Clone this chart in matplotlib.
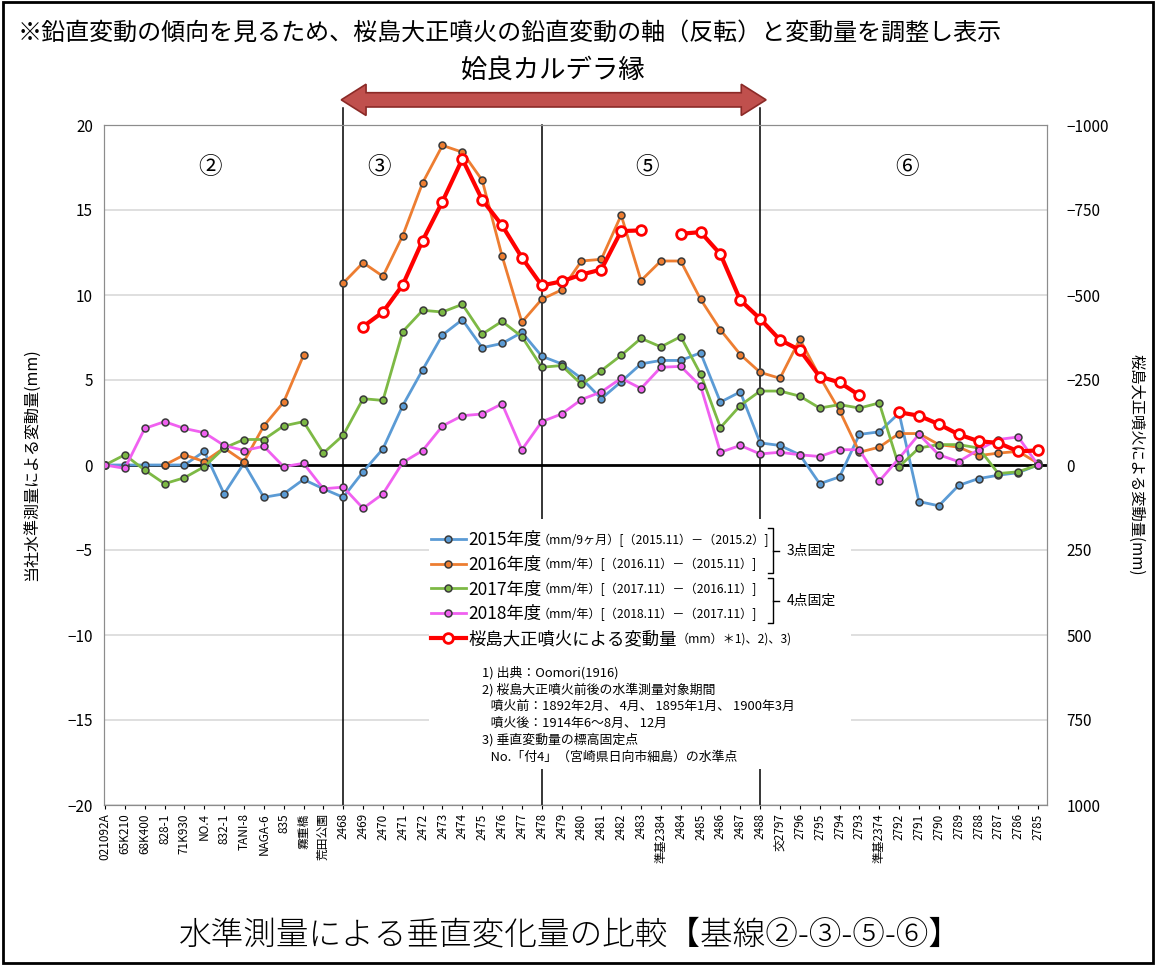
import matplotlib

matplotlib.use("Agg")
import matplotlib.pyplot as plt
import matplotlib.transforms as mtransforms
import numpy as np
from matplotlib.lines import Line2D
from matplotlib.patches import Polygon, Rectangle

plt.rcParams["font.family"] = ["Noto Sans CJK JP", "DejaVu Sans"]

nan = np.nan

STATIONS = [
    "021092A", "65K210", "68K400", "828-1", "71K930", "NO.4", "832-1", "TANI-8",
    "NAGA-6", "835", "霧重橋", "荒田公園", "2468", "2469", "2470", "2471",
    "2472", "2473", "2474", "2475", "2476", "2477", "2478", "2479",
    "2480", "2481", "2482", "2483", "準基2384", "2484", "2485", "2486",
    "2487", "2488", "交2797", "2796", "2795", "2794", "2793", "準基2374",
    "2792", "2791", "2790", "2789", "2788", "2787", "2786", "2785",
]

# 当社水準測量 (mm)
FY2015 = [
    0, 0, 0, 0, 0, 0.8, -1.7, 0.1, -1.9, -1.7, -0.85, -1.4,
    -1.9, -0.4, 0.95, 3.5, 5.6, 7.65, 8.55, 6.9, 7.15, 7.8, 6.4, 5.95,
    5.1, 3.9, 4.9, 5.95, 6.15, 6.15, 6.6, 3.7, 4.3, 1.3, 1.15, 0.6,
    -1.1, -0.7, 1.8, 1.95, 3.05, -2.15, -2.4, -1.2, -0.8, -0.6, -0.45, 0,
]
FY2016 = [
    nan, nan, nan, 0, 0.6, 0.2, 1.0, 0.2, 2.3, 3.7, 6.45, nan,
    10.7, 11.9, 11.1, 13.5, 16.6, 18.8, 18.4, 16.75, 12.3, 8.4, 9.75, 10.3,
    12.0, 12.1, 14.7, 10.85, 12.0, 12.0, 9.75, 7.95, 6.5, 5.45, 5.1, 7.4,
    5.2, 3.2, 0.75, 1.05, 1.85, 1.85, 1.2, 1.05, 0.55, 0.7, 0.8, 0.1,
]
FY2017 = [
    0, 0.6, -0.3, -1.1, -0.75, -0.1, 1.0, 1.5, 1.5, 2.3, 2.55, 0.7,
    1.75, 3.9, 3.8, 7.85, 9.1, 9.0, 9.45, 7.7, 8.45, 7.55, 5.75, 5.85,
    4.75, 5.55, 6.45, 7.45, 6.95, 7.55, 5.35, 2.2, 3.5, 4.35, 4.35, 4.05,
    3.35, 3.55, 3.35, 3.65, -0.1, 1.0, 1.2, 1.2, 1.0, -0.5, -0.4, 0,
]
FY2018 = [
    0, -0.2, 2.15, 2.55, 2.15, 1.9, 1.15, 0.85, 1.1, -0.1, 0.1, -1.4,
    -1.3, -2.55, -1.7, 0.15, 0.85, 2.3, 2.9, 3.0, 3.6, 0.9, 2.55, 3.0,
    3.85, 4.3, 5.1, 4.5, 5.75, 5.8, 4.65, 0.75, 1.15, 0.65, 0.75, 0.6,
    0.5, 0.9, 0.9, -0.95, 0.4, 1.8, 0.6, 0.2, 0.9, 1.5, 1.65, 0,
]
# 桜島大正噴火による変動量 (mm, 右軸)
TAISHO = [
    nan, nan, nan, nan, nan, nan, nan, nan, nan, nan, nan, nan,
    nan, -407, -450, -530, -660, -775, -900, -780, -705, -610, -528, -540,
    -560, -575, -688, -690, nan, -680, -685, -620, -485, -430, -368, -338,
    -260, -243, -205, nan, -155, -145, -120, -90, -70, -65, -40, -43,
]

SERIES = [
    ("2015年度", FY2015, "#5B9BD5"),
    ("2016年度", FY2016, "#ED7D31"),
    ("2017年度", FY2017, "#7DB945"),
    ("2018年度", FY2018, "#F060F0"),
]
SERIES_NOTES = [
    "（mm/9ヶ月）[（2015.11）－（2015.2）]",
    "（mm/年）[（2016.11）－（2015.11）]",
    "（mm/年）[（2017.11）－（2016.11）]",
    "（mm/年）[（2018.11）－（2017.11）]",
]
TAISHO_LABEL = "桜島大正噴火による変動量"
TAISHO_NOTE = "（mm）＊1)、2)、3)"

# base line section boundaries and labels
BOUNDARIES = [12, 22, 33]
SECTIONS = [("②", 5.3), ("③", 13.8), ("⑤", 27.3), ("⑥", 40.4)]

NOTES = [
    "1) 出典：Oomori(1916)",
    "2) 桜島大正噴火前後の水準測量対象期間",
    "   噴火前：1892年2月、 4月、 1895年1月、 1900年3月",
    "   噴火後：1914年6～8月、 12月",
    "3) 垂直変動量の標高固定点",
    "   No.「付4」（宮崎県日向市細島）の水準点",
]

W, H = 1156, 965


def fx(px):
    return px / W


def fy(py):
    return 1 - py / H


def main() -> None:
    fig = plt.figure(figsize=(W / 100, H / 100), dpi=100)
    ax = fig.add_axes([fx(104), fy(805), fx(1047) - fx(104), fy(125) - fy(805)])
    x = np.arange(len(STATIONS))

    handles = []
    for label, values, color in SERIES:
        (h,) = ax.plot(x, values, color=color, lw=2.0, marker="o", ms=5,
                       mfc=color, mec="#3a3a3a", mew=1.1, zorder=3, label=label)
        handles.append(h)

    ax.set_xlim(-0.05, 47.45)
    ax.set_ylim(-20, 20)
    ax.set_yticks(np.arange(-20, 21, 5))
    ax.yaxis.grid(True, color="#d9d9d9", lw=1.2)
    ax.set_axisbelow(True)
    ax.axhline(0, color="black", lw=2, zorder=2)
    ax.set_xticks(x)
    ax.set_xticklabels(STATIONS, rotation=90, fontsize=8.5)
    ax.tick_params(axis="x", length=3, pad=3)
    ax.tick_params(axis="y", labelsize=11, length=0, pad=8)
    for s in ax.spines.values():
        s.set_color("#8c8c8c")

    ax.set_ylabel("当社水準測量による変動量(mm)", fontsize=11.5)
    ax.yaxis.set_label_coords(-0.068, 0.5)

    ax2 = ax.twinx()
    (hr,) = ax2.plot(x, TAISHO, color="#FF0000", lw=3, marker="o", ms=7,
                     mfc="white", mec="#FF0000", mew=2, zorder=4)
    handles.append(hr)
    ax2.set_ylim(1000, -1000)
    ax2.set_yticks(np.arange(-1000, 1001, 250))
    ax2.tick_params(axis="y", labelsize=11, length=0, pad=14)
    ax2.set_ylabel("桜島大正噴火による変動量(mm)", fontsize=11, rotation=-90,
                   labelpad=26)
    for s in ax2.spines.values():
        s.set_color("#8c8c8c")

    # section boundaries and the caldera-rim arrow
    for b in BOUNDARIES:
        top = 1.0 if b == 22 else 1.025
        ax.axvline(b, ymin=0, ymax=top, color="black", lw=1.1, zorder=2,
                   clip_on=False)
    for name, pos in SECTIONS:
        ax.text(pos, 17.5, name, fontsize=17, ha="center", va="center")

    trans = mtransforms.blended_transform_factory(ax.transData, ax.transAxes)
    x0, x1 = 11.9, 33.3
    yc, sh, hh, hl = 1.037, 0.0105, 0.023, 1.25
    arrow = Polygon(
        [(x0, yc), (x0 + hl, yc + hh), (x0 + hl, yc + sh), (x1 - hl, yc + sh),
         (x1 - hl, yc + hh), (x1, yc), (x1 - hl, yc - hh), (x1 - hl, yc - sh),
         (x0 + hl, yc - sh), (x0 + hl, yc - hh)],
        closed=True, transform=trans, clip_on=False,
        facecolor="#C0504D", edgecolor="#8B2A27", lw=1.2, zorder=5)
    ax.add_patch(arrow)

    # white box behind legend and notes
    ax.add_patch(Rectangle((16.3, -17.9), 21.3, 14.7, facecolor="white",
                           edgecolor="none", zorder=5))

    leg = ax.legend(handles, [s[0] for s in SERIES] + [TAISHO_LABEL],
                    loc="upper left", bbox_to_anchor=(fx(431), fy(531)),
                    bbox_transform=fig.transFigure, frameon=False, fontsize=12.5,
                    handlelength=2.0, handletextpad=0.15, labelspacing=0.39,
                    borderpad=0, borderaxespad=0)
    leg.set_zorder(6)

    fig.canvas.draw()
    renderer = fig.canvas.get_renderer()
    inv = fig.transFigure.inverted()
    for i, txt in enumerate(leg.get_texts()):
        bb = txt.get_window_extent(renderer)
        yc_fig = inv.transform((0, (bb.y0 + bb.y1) / 2))[1]
        if i < 4:
            fig.text(fx(538), yc_fig, SERIES_NOTES[i], fontsize=8.7, va="center")
        else:
            fig.text(fx(677), yc_fig, TAISHO_NOTE, fontsize=8.7, va="center")

    # brackets for fixed points
    for (ytop, ybot, label) in [(528, 573, "3点固定"), (578, 623, "4点固定")]:
        ym = (ytop + ybot) / 2
        fig.add_artist(Line2D([fx(768), fx(773), fx(773), fx(768)],
                              [fy(ytop), fy(ytop), fy(ybot), fy(ybot)],
                              color="black", lw=1))
        fig.add_artist(Line2D([fx(773), fx(779)], [fy(ym), fy(ym)],
                              color="black", lw=1))
        fig.text(fx(787), fy(ym), label, fontsize=10, va="center")

    for i, line in enumerate(NOTES):
        fig.text(fx(482), fy(673 + i * 16.8), line, fontsize=9.3, va="center")

    fig.text(fx(18), fy(33), "※鉛直変動の傾向を見るため、桜島大正噴火の鉛直変動の軸（反転）と変動量を調整し表示",
             fontsize=17.3, va="center")
    fig.text(fx(553), fy(70), "姶良カルデラ縁", fontsize=19, ha="center", va="center")
    fig.text(fx(570), fy(935), "水準測量による垂直変化量の比較【基線②-③-⑤-⑥】",
             fontsize=23.5, ha="center", va="center", fontweight="light")

    fig.add_artist(Rectangle((0.003, 0.002), 0.994, 0.996, transform=fig.transFigure,
                             fill=False, edgecolor="black", lw=2))

    fig.savefig("out.png", dpi=100)
    plt.close(fig)


if __name__ == "__main__":
    main()
